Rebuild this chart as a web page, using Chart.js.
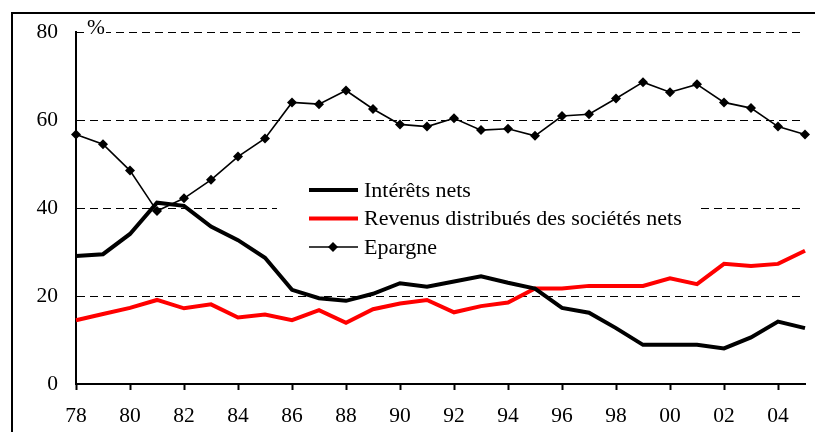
<!DOCTYPE html>
<html>
<head>
<meta charset="utf-8">
<script src="https://cdn.jsdelivr.net/npm/chart.js@4/dist/chart.umd.min.js"></script>
<style>
	html, body { margin: 0; padding: 0; background: #fff; }
	#frame { position: absolute; left: 11px; top: 12px; width: 900px; height: 500px;
		border-left: 2px solid #000; border-top: 2px solid #000; }
	#wrap { position: absolute; left: 0; top: 0; width: 815px; height: 432px; }
</style>
</head>
<body>
<div id="frame"></div>
<div id="wrap"><canvas id="line-chart" width="815" height="432"></canvas></div>
<script>
let years = ["78","79","80","81","82","83","84","85","86","87","88","89","90","91",
	"92","93","94","95","96","97","98","99","00","01","02","03","04","05"];

let interets = [29.1, 29.5, 34.1, 41.2, 40.5, 35.8, 32.7, 28.7, 21.4, 19.5, 18.9, 20.5, 22.9, 22.1,
	23.3, 24.5, 23.0, 21.7, 17.3, 16.2, 12.7, 8.9, 8.9, 8.9, 8.1, 10.6, 14.2, 12.7];

let revenus = [14.5, 15.9, 17.3, 19.1, 17.2, 18.1, 15.1, 15.8, 14.5, 16.8, 13.9, 17.0, 18.3, 19.1,
	16.3, 17.7, 18.5, 21.7, 21.7, 22.3, 22.3, 22.3, 24.0, 22.7, 27.3, 26.8, 27.3, 30.3];

let epargne = [56.7, 54.5, 48.5, 39.3, 42.2, 46.4, 51.7, 55.8, 64.0, 63.6, 66.7, 62.5, 59.0, 58.5,
	60.4, 57.7, 58.0, 56.4, 60.9, 61.3, 64.9, 68.6, 66.3, 68.1, 64.0, 62.7, 58.5, 56.7];

let yTicks = [0, 20, 40, 60, 80];

let FONT = "'Liberation Serif', 'Times New Roman', serif";
let FONT_SIZE = 21.5;

// legend in a white box inside the plot, plus the "%" unit label
let floatingLegend = {
	id: 'floatingLegend',
	beforeDatasetsDraw(chart) {
		let ctx = chart.ctx;
		ctx.save();
		ctx.fillStyle = '#fff';
		ctx.fillRect(277, 172, 424, 92);
		ctx.font = '22px ' + FONT;
		ctx.textBaseline = 'middle';
		ctx.fillStyle = '#000';
		chart.data.datasets.forEach(function(ds, i) {
			let y = 190 + i * 28.5;
			ctx.strokeStyle = ds.borderColor;
			ctx.lineWidth = ds.borderWidth;
			ctx.beginPath();
			ctx.moveTo(309, y);
			ctx.lineTo(358, y);
			ctx.stroke();
			if (ds.pointRadius > 0) {
				ctx.fillStyle = '#000';
				ctx.beginPath();
				ctx.moveTo(333 - 5, y);
				ctx.lineTo(333, y - 5);
				ctx.lineTo(333 + 5, y);
				ctx.lineTo(333, y + 5);
				ctx.closePath();
				ctx.fill();
			}
			ctx.fillStyle = '#000';
			ctx.fillText(ds.label, 364, y + 1);
		});
		// unit label
		let top = chart.scales.y.getPixelForValue(80);
		ctx.font = FONT_SIZE + 'px ' + FONT;
		ctx.fillStyle = '#fff';
		ctx.fillRect(84, top - 3, 22, 6);
		ctx.fillStyle = '#000';
		ctx.textBaseline = 'alphabetic';
		ctx.fillText('%', 87, top + 2);
		ctx.restore();
	}
};

function init() {
	Chart.defaults.font.family = FONT;
	Chart.defaults.font.size = FONT_SIZE;
	Chart.defaults.color = '#000';

	new Chart(document.getElementById("line-chart"), {
		type: 'line',
		data: {
			labels: years,
			datasets: [{
				label: "Intérêts nets",
				data: interets,
				borderColor: "#000",
				borderWidth: 4,
				pointRadius: 0,
				fill: false
			}, {
				label: "Revenus distribués des sociétés nets",
				data: revenus,
				borderColor: "#ff0000",
				borderWidth: 4,
				pointRadius: 0,
				fill: false
			}, {
				label: "Epargne",
				data: epargne,
				borderColor: "#000",
				backgroundColor: "#000",
				borderWidth: 1.6,
				pointStyle: 'rectRot',
				pointRadius: 5,
				pointBorderWidth: 0,
				fill: false
			}]
		},
		options: {
			responsive: false,
			animation: false,
			layout: { padding: { left: 0, right: 10, top: 32, bottom: 0 } },
			plugins: { legend: { display: false }, tooltip: { enabled: false } },
			elements: { line: { tension: 0 } },
			scales: {
				x: {
					offset: false,
					afterFit(scale) {
						scale.height = 48;
						scale.paddingLeft = 0;
						scale.paddingRight = 0;
					},
					grid: {
						drawOnChartArea: false,
						tickLength: 6,
						tickWidth: 2,
						tickColor: ctx => ctx.index % 2 === 0 ? '#000' : 'rgba(0,0,0,0)'
					},
					border: { color: '#000', width: 2 },
					ticks: {
						autoSkip: false,
						maxRotation: 0,
						padding: 13,
						callback: (v, i) => i % 2 === 0 ? years[i] : ''
					}
				},
				y: {
					min: 0,
					max: 80,
					afterFit(scale) { scale.width = 76; },
					afterBuildTicks(scale) { scale.ticks = yTicks.map(v => ({ value: v })); },
					grid: {
						drawTicks: false,
						lineWidth: 1,
						color: ctx => ctx.tick && ctx.tick.value === 0 ? 'rgba(0,0,0,0)' : '#000'
					},
					border: { color: '#000', width: 2, dash: [8, 5] },
					ticks: { padding: 18 }
				}
			}
		},
		plugins: [floatingLegend]
	});
}

init();
</script>
</body>
</html>
